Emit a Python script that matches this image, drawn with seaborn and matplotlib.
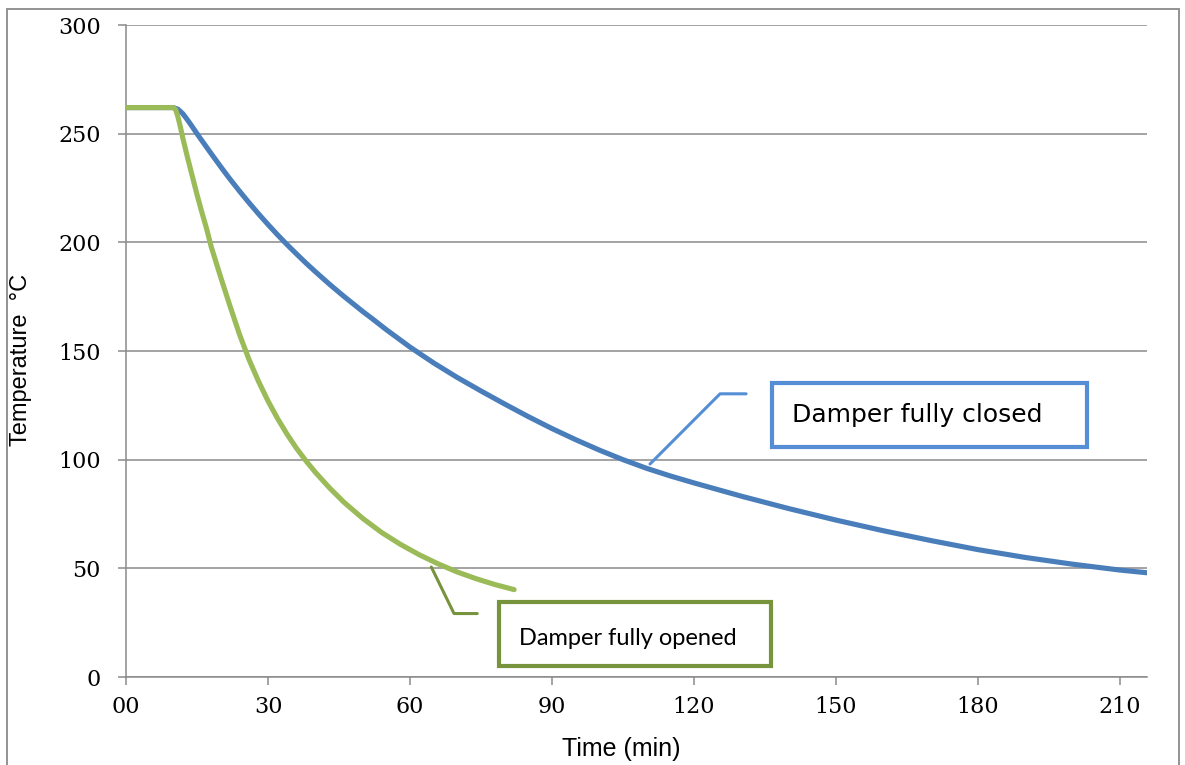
import matplotlib
matplotlib.use("Agg")
import matplotlib.pyplot as plt
from matplotlib.patches import Rectangle
import pandas as pd
import seaborn as sns

# readings (time in min, temperature in deg C)
time_closed = [0, 10, 11, 12, 13, 14, 15, 16, 18, 20, 22, 24, 26, 28, 30, 32, 34, 36, 38, 40, 43, 46, 50,
               52, 55, 58, 60, 65, 70, 75, 78, 80, 85, 90, 95, 100, 105, 110, 115, 120, 130, 140, 150,
               160, 170, 180, 190, 200, 210, 216]
temp_closed = [262, 262, 261.2, 259.2, 256.3, 253.2, 250, 246.9, 240.8, 234.8, 229, 223.5, 218.2, 213.1,
               208.2, 203.5, 199, 194.7, 190.5, 186.5, 180.7, 175.2, 168.2, 164.9, 159.8, 155, 151.8, 144.5,
               137.8, 131.6, 128, 125.6, 119.8, 114.3, 109.2, 104.4, 100, 96, 92.5, 89.3, 83.2, 77.5, 72.2,
               67.3, 62.8, 58.6, 55, 51.9, 49.2, 47.9]

time_opened = [0, 10, 10.5, 11, 11.5, 12, 13, 14, 15, 16, 17, 18, 20, 22, 24, 26, 28, 30, 32, 34, 36, 38,
               40, 43, 46, 50, 54, 58, 62, 66, 70, 74, 78, 82]
temp_opened = [262, 262, 261, 257.5, 253, 248, 239, 230.5, 222, 214, 206.5, 198, 184, 170.5, 157.5, 146,
               136, 127, 119, 111.8, 105.3, 99.5, 94.2, 87, 80.5, 73, 66.5, 61, 56.2, 52, 48.3, 45.2, 42.5, 40.2]

label_closed = "Damper fully closed"
label_opened = "Damper fully opened"
x_ticks = [0, 30, 60, 90, 120, 150, 180, 210]
x_ticklabels = ["00", "30", "60", "90", "120", "150", "180", "210"]
y_ticks = [0, 50, 100, 150, 200, 250, 300]

df = pd.concat([
    pd.DataFrame({"time": time_closed, "temp": temp_closed, "case": label_closed}),
    pd.DataFrame({"time": time_opened, "temp": temp_opened, "case": label_opened}),
])

sns.set_theme(style="white")
plt.rcParams["font.family"] = ["DejaVu Sans"]
plt.rcParams["text.color"] = "black"
plt.rcParams["axes.labelcolor"] = "black"
plt.rcParams["xtick.color"] = "black"
plt.rcParams["ytick.color"] = "black"

grey = "#8a8a8a"
blue = "#4a7ebb"
green = "#9bbb59"

fig = plt.figure(figsize=(11.85, 7.65), dpi=100)
ax = fig.add_axes([126 / 1185, 1 - 677 / 765, (1147 - 126) / 1185, (677 - 25) / 765])

sns.lineplot(data=df, x="time", y="temp", hue="case", palette={label_closed: blue, label_opened: green},
             linewidth=3.7, sort=False, legend=False, ax=ax, solid_capstyle="round",
             solid_joinstyle="round", zorder=3)

ax.set_xlim(0, 215.7)
ax.set_ylim(0, 300)
ax.set_xticks(x_ticks)
ax.set_xticklabels(x_ticklabels)
ax.set_yticks(y_ticks)
for lab in ax.get_xticklabels() + ax.get_yticklabels():
    lab.set_fontfamily("DejaVu Serif")
    lab.set_fontsize(16)
    lab.set_color("black")
ax.tick_params(axis="y", length=6, width=1.1, color=grey, pad=12, left=True)
ax.tick_params(axis="x", length=6, width=1.1, color=grey, pad=8, bottom=True)

ax.yaxis.grid(True, color=grey, linewidth=1.1)
ax.xaxis.grid(False)
for side in ["top", "right"]:
    ax.spines[side].set_visible(False)
for side in ["left", "bottom"]:
    ax.spines[side].set_color(grey)
    ax.spines[side].set_linewidth(1.1)

ax.set_xlabel("Time (min)", fontsize=18, fontfamily="Liberation Sans")
ax.set_ylabel("Temperature  °C", fontsize=17, fontfamily="Liberation Sans")
ax.xaxis.set_label_coords(0.485, -0.092)
ax.yaxis.set_label_coords(-0.092, 0.487)

# callout: closed
ax.plot([110.7, 125.5, 131.0], [98.0, 130.3, 130.3], color="#558ed5", lw=2.2, zorder=4, clip_on=False)
ax.add_patch(Rectangle((136.5, 105.8), 66.5, 29.5, facecolor="white", edgecolor="#558ed5", lw=3, zorder=4))
ax.text(140.7, 120.5, label_closed, fontsize=18, fontfamily="DejaVu Sans", va="center", ha="left", zorder=5)

# callout: opened
ax.plot([64.5, 69.3, 74.2], [50.6, 29.2, 29.2], color="#77933c", lw=2.2, zorder=4, clip_on=False)
ax.add_patch(Rectangle((78.8, 5.2), 57.5, 29.3, facecolor="white", edgecolor="#77933c", lw=3, zorder=4))
ax.text(83.0, 17.7, label_opened, fontsize=17, fontfamily="Lato", va="center", ha="left", zorder=5)

# outer frame of the chart area
fig.patches.append(Rectangle((7 / 1185, -0.01), (1179 - 7) / 1185, 1 - 9 / 765 + 0.01,
                             transform=fig.transFigure, fill=False, edgecolor=grey, lw=1.3))

fig.savefig("out.png", dpi=100)
